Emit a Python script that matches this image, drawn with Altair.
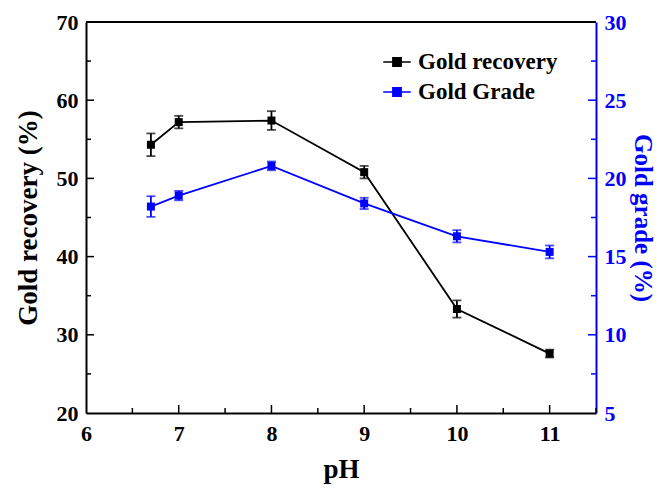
import altair as alt
import pandas as pd

ph = [6.7, 7, 8, 9, 10, 11]
recovery = [54.3, 57.2, 57.4, 50.8, 33.3, 27.6]
recovery_err = [1.45, 0.8, 1.2, 0.8, 1.1, 0.5]
grade = [18.2, 18.9, 20.8, 18.4, 16.3, 15.3]
grade_err = [0.66, 0.3, 0.28, 0.36, 0.39, 0.41]

series = ["Gold recovery", "Gold Grade"]
colors = ["black", "blue"]

x_major = [7, 8, 9, 10, 11]
x_minor = [6.5, 7.5, 8.5, 9.5, 10.5, 11.5]
left_major = [30, 40, 50, 60]
left_minor = [25, 35, 45, 55, 65]
right_major = [10, 15, 20, 25]
right_minor = [7.5, 12.5, 17.5, 22.5, 27.5]

FONT = "Liberation Serif"
W, H = 510, 391

rec = pd.DataFrame({
    "ph": ph, "value": recovery,
    "lo": [v - e for v, e in zip(recovery, recovery_err)],
    "hi": [v + e for v, e in zip(recovery, recovery_err)],
    "series": series[0],
})
grd = pd.DataFrame({
    "ph": ph, "value": grade,
    "lo": [v - e for v, e in zip(grade, grade_err)],
    "hi": [v + e for v, e in zip(grade, grade_err)],
    "series": series[1],
})

xscale = alt.Scale(domain=[6, 11.5], nice=False, zero=False)
xaxis = alt.Axis(values=[6, 7, 8, 9, 10, 11], title="pH", ticks=False,
                 domainColor="black", domainWidth=2, labelFlush=False,
                 labelFont=FONT, labelFontSize=22, labelFontWeight="bold", labelColor="black",
                 labelPadding=10, titleFont=FONT, titleFontSize=27, titleFontWeight="bold",
                 titleColor="black", titlePadding=12, grid=False)
X = alt.X("ph:Q", scale=xscale, axis=xaxis)

color = alt.Color(
    "series:N",
    scale=alt.Scale(domain=series, range=colors),
    legend=alt.Legend(
        orient="none", legendX=296, legendY=25, title=None,
        symbolType="M-1,0L1,0M-0.3,-0.3L0.3,-0.3L0.3,0.3L-0.3,0.3Z",
        symbolSize=760, symbolStrokeWidth=1.5, symbolOpacity=1,
        labelFont=FONT, labelFontSize=23, labelFontWeight="bold", labelColor="black",
        rowPadding=3, labelOffset=6,
    ),
)

left_scale = alt.Scale(domain=[20, 70], nice=False, zero=False)
left_axis = alt.Axis(values=[20, 30, 40, 50, 60, 70], title="Gold recovery (%)", ticks=False,
                     domainColor="black", domainWidth=2, labelFlush=False,
                     labelFont=FONT, labelFontSize=22, labelFontWeight="bold", labelColor="black",
                     labelPadding=8, titleFont=FONT, titleFontSize=27, titleFontWeight="bold",
                     titleColor="black", titlePadding=14, grid=False)

right_scale = alt.Scale(domain=[5, 30], nice=False, zero=False)
right_axis = alt.Axis(orient="right", values=[5, 10, 15, 20, 25, 30], title="Gold grade (%)", ticks=False,
                      domainColor="blue", domainWidth=2, labelFlush=False,
                      labelFont=FONT, labelFontSize=22, labelFontWeight="bold", labelColor="blue",
                      labelPadding=8, titleFont=FONT, titleFontSize=25, titleFontWeight="bold",
                      titleColor="blue", titlePadding=3, grid=False)


def group(df, yscale, yaxis, major, minor, left_side):
    base = alt.Chart(df)
    Y = alt.Y("value:Q", scale=yscale, axis=yaxis)
    Ylo = alt.Y("lo:Q", scale=yscale, axis=yaxis)
    Yhi = alt.Y("hi:Q", scale=yscale, axis=yaxis)
    line = base.mark_line(strokeWidth=1.8).encode(x=X, y=Y, color=color)
    pts = base.mark_square(size=64, opacity=1).encode(x=X, y=Y, color=color)
    err = base.mark_rule(strokeWidth=1.8).encode(x=X, y=Ylo, y2="hi:Q", color=color)
    cap_lo = base.mark_tick(orient="horizontal", size=9, thickness=1.8).encode(x=X, y=Ylo, color=color)
    cap_hi = base.mark_tick(orient="horizontal", size=9, thickness=1.8).encode(x=X, y=Yhi, color=color)
    c = "black" if left_side else "blue"
    x0 = 0 if left_side else W
    x_maj = 8 if left_side else W - 8
    x_min = 5 if left_side else W - 5
    tmaj = alt.Chart(pd.DataFrame({"value": major})).mark_rule(color=c, strokeWidth=1.5).encode(
        y=Y, x=alt.value(x0), x2=alt.value(x_maj))
    tmin = alt.Chart(pd.DataFrame({"value": minor})).mark_rule(color=c, strokeWidth=1.5).encode(
        y=Y, x=alt.value(x0), x2=alt.value(x_min))
    return alt.layer(line, err, cap_lo, cap_hi, pts, tmaj, tmin)


rec_group = group(rec, left_scale, left_axis, left_major, left_minor, True)
grd_group = group(grd, right_scale, right_axis, right_major, right_minor, False)

xt_major = alt.Chart(pd.DataFrame({"ph": x_major})).mark_rule(color="black", strokeWidth=1.5).encode(
    x=X, y=alt.value(H), y2=alt.value(H - 8))
xt_minor = alt.Chart(pd.DataFrame({"ph": x_minor})).mark_rule(color="black", strokeWidth=1.5).encode(
    x=X, y=alt.value(H), y2=alt.value(H - 5))
top_border = alt.Chart(pd.DataFrame({"ph": [6]})).mark_rule(color="black", strokeWidth=2).encode(
    x=alt.value(0), x2=alt.value(W), y=alt.value(0))

chart = alt.layer(rec_group, grd_group, xt_major, xt_minor, top_border).resolve_scale(
    y="independent"
).resolve_axis(y="independent").properties(
    width=W, height=H,
    autosize=alt.AutoSizeParams(type="none"),
    padding={"left": 78, "top": 14, "right": 59, "bottom": 71},
    background="white",
).configure_view(strokeOpacity=0)

chart.save("out.html", embed_options={"renderer": "svg", "actions": False})
